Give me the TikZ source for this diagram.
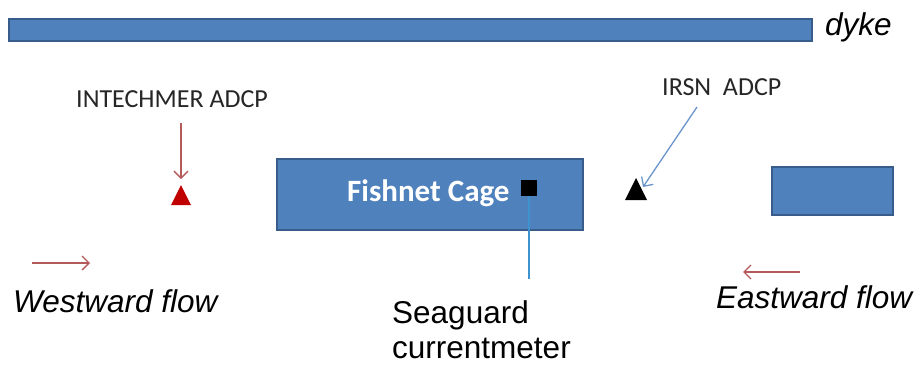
\documentclass[tikz,border=0pt]{standalone}
\usepackage{fontspec}
\setmainfont{Liberation Sans}
\newfontfamily\calfont{Carlito}
\usetikzlibrary{arrows.meta}
\definecolor{boxfill}{HTML}{4F81BD}
\definecolor{boxedge}{HTML}{385D8A}
\definecolor{redarrow}{HTML}{B55A5A}
\definecolor{bluearrow}{HTML}{6A95CC}
\definecolor{lineblue}{HTML}{3E93CF}
\definecolor{redtri}{HTML}{C00000}
\definecolor{labelgray}{HTML}{262626}
\begin{document}
\begin{tikzpicture}[x=1pt,y=-1pt,
  blockbox/.style={draw=boxedge,fill=boxfill,line width=2pt,inner sep=0pt,anchor=north west},
  flowtext/.style={font=\fontsize{31.5}{36}\selectfont\itshape,anchor=base west,inner sep=0pt},
  plaintext/.style={font=\fontsize{31.5}{36}\selectfont,anchor=base west,inner sep=0pt},
  devlabel/.style={font=\calfont\fontsize{26}{30}\selectfont,text=labelgray,anchor=base west,inner sep=0pt},
  redarr/.style={draw=redarrow,line width=1.3pt,-{Straight Barb[length=7pt,width=14pt]}},
  bluearr/.style={draw=bluearrow,line width=1.3pt,-{Straight Barb[length=7pt,width=14pt]}}]
\useasboundingbox (0,0) rectangle (919,365);
% dyke
\node[blockbox,minimum width=803pt,minimum height=22pt] (dyke) at (8,18) {};
\node[flowtext] (dyketxt) at (825,35) {dyke};
% fishnet cage
\node[blockbox,minimum width=306pt,minimum height=71pt] (cage) at (276,158) {};
\node[font=\calfont\bfseries\fontsize{31}{35}\selectfont,text=white,anchor=base west,inner sep=0pt] (cagetxt) at (347,201) {Fishnet Cage};
\node[fill=black,minimum size=16pt,inner sep=0pt] (seaguard) at (529,188) {};
% right block
\node[blockbox,minimum width=121pt,minimum height=48pt] (rblock) at (771,166) {};
% seaguard label and line
\coordinate (sgend) at (529,279);
\draw[lineblue,line width=1.5pt] (seaguard.south) -- (sgend);
\node[plaintext] (sg1) at (392,323) {Seaguard};
\node[plaintext] (sg2) at (392,358) {currentmeter};
% INTECHMER
\node[devlabel] (intlbl) at (76,107) {INTECHMER ADCP};
\fill[redtri] (171,205) -- (181,185) -- (191,205) -- cycle;
\coordinate (inttop) at (181,123);
\coordinate (inttip) at (181,179);
\draw[redarr] (inttop) -- (inttip);
% IRSN
\node[devlabel] (irsnlbl) at (662,95) {IRSN\ \ ADCP};
\fill[black] (625,200) -- (636,178) -- (647,200) -- cycle;
\coordinate (irsntop) at (697,107);
\coordinate (irsntip) at (643,187);
\draw[bluearr] (irsntop) -- (irsntip);
% flows
\coordinate (wa) at (32,263);
\coordinate (wb) at (90,263);
\draw[redarr] (wa) -- (wb);
\node[flowtext] (west) at (13,312) {Westward flow};
\coordinate (ea) at (800,272);
\coordinate (eb) at (743,272);
\draw[redarr] (ea) -- (eb);
\node[flowtext] (east) at (716,308) {Eastward flow};
\end{tikzpicture}
\end{document}
